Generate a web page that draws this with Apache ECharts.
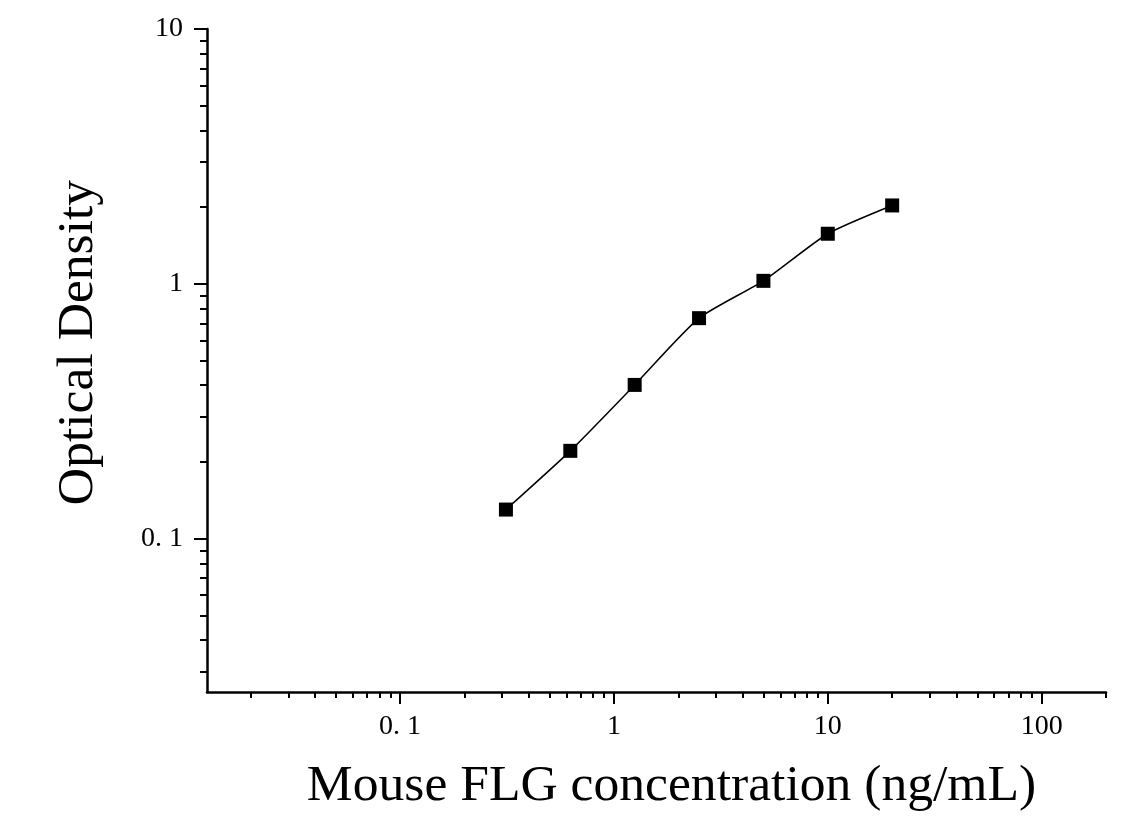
<!DOCTYPE html>
<html>
<head>
<meta charset="utf-8">
<script src="https://cdn.jsdelivr.net/npm/echarts@6/dist/echarts.min.js"></script>
<style>
html,body{margin:0;padding:0;background:#fff;}
#chart{width:1145px;height:823px;}
</style>
</head>
<body>
<div id="chart"></div>
<script>
// Data
const concentrations = [0.3125, 0.625, 1.25, 2.5, 5, 10, 20];
const opticalDensity = [0.130, 0.221, 0.401, 0.733, 1.027, 1.572, 2.030];

// Axis ticks
const xMajorTicks = [0.1, 1, 10, 100];
const xMajorLabels = ['0. 1', '1', '10', '100'];
const xMinorTicks = [0.02,0.03,0.04,0.05,0.06,0.07,0.08,0.09,
                     0.2,0.3,0.4,0.5,0.6,0.7,0.8,0.9,
                     2,3,4,5,6,7,8,9,
                     20,30,40,50,60,70,80,90,200];
const yMajorTicks = [0.1, 1, 10];
const yMajorLabels = ['0. 1', '1', '10'];
const yMinorTicks = [0.03,0.04,0.05,0.06,0.07,0.08,0.09,
                     0.2,0.3,0.4,0.5,0.6,0.7,0.8,0.9,
                     2,3,4,5,6,7,8,9];

const xTitle = 'Mouse FLG concentration (ng/mL)';
const yTitle = 'Optical Density';

function labelFor(ticks, labels) {
  return function (v) {
    for (let i = 0; i < ticks.length; i++) {
      if (Math.abs(Math.log10(v) - Math.log10(ticks[i])) < 1e-6) return labels[i];
    }
    return '';
  };
}

const FONT = 'Liberation Serif, Times New Roman, serif';
const xMin = 0.0125, xMax = 200, yMin = 0.025, yMax = 10;

const chart = echarts.init(document.getElementById('chart'), null, {renderer: 'canvas'});
chart.setOption({
  animation: false,
  backgroundColor: '#ffffff',
  grid: {left: 207, right: 39, top: 29, bottom: 131, containLabel: false},
  xAxis: [
    {
      type: 'log', logBase: 10, min: xMin, max: xMax, position: 'bottom',
      axisLine: {show: true, lineStyle: {color: '#000', width: 2.5}},
      axisTick: {show: true, inside: false, length: 12, customValues: xMajorTicks, lineStyle: {color: '#000', width: 2}},
      axisLabel: {show: true, customValues: xMajorTicks, formatter: labelFor(xMajorTicks, xMajorLabels),
        color: '#000', fontFamily: FONT, fontSize: 28, margin: 21},
      splitLine: {show: false}, minorTick: {show: false}, minorSplitLine: {show: false},
      name: xTitle, nameLocation: 'middle', nameGap: 68,
      nameTextStyle: {color: '#000', fontFamily: FONT, fontSize: 51.6, padding: [0, 0, 0, 30]}
    },
    {
      type: 'log', logBase: 10, min: xMin, max: xMax, position: 'bottom',
      axisLine: {show: false},
      axisTick: {show: true, inside: false, length: 6, customValues: xMinorTicks, lineStyle: {color: '#000', width: 2}},
      axisLabel: {show: false},
      splitLine: {show: false}
    }
  ],
  yAxis: [
    {
      type: 'log', logBase: 10, min: yMin, max: yMax, position: 'left',
      axisLine: {show: true, lineStyle: {color: '#000', width: 2.5}},
      axisTick: {show: true, inside: false, length: 13, customValues: yMajorTicks, lineStyle: {color: '#000', width: 2}},
      axisLabel: {show: true, customValues: yMajorTicks, formatter: labelFor(yMajorTicks, yMajorLabels),
        color: '#000', fontFamily: FONT, fontSize: 28, margin: 24},
      splitLine: {show: false}, minorTick: {show: false},
      name: yTitle, nameLocation: 'middle', nameGap: 103,
      nameTextStyle: {color: '#000', fontFamily: FONT, fontSize: 51.6, padding: [0, 0, 0, 36]}
    },
    {
      type: 'log', logBase: 10, min: yMin, max: yMax, position: 'left',
      axisLine: {show: false},
      axisTick: {show: true, inside: false, length: 7, customValues: yMinorTicks, lineStyle: {color: '#000', width: 2}},
      axisLabel: {show: false},
      splitLine: {show: false}
    }
  ],
  series: [{
    type: 'line',
    xAxisIndex: 0, yAxisIndex: 0,
    data: concentrations.map((c, i) => [c, opticalDensity[i]]),
    smooth: 0.2,
    symbol: 'rect', symbolSize: 14,
    itemStyle: {color: '#000'},
    lineStyle: {color: '#000', width: 1.5},
    z: 3
  }]
});
</script>
</body>
</html>
